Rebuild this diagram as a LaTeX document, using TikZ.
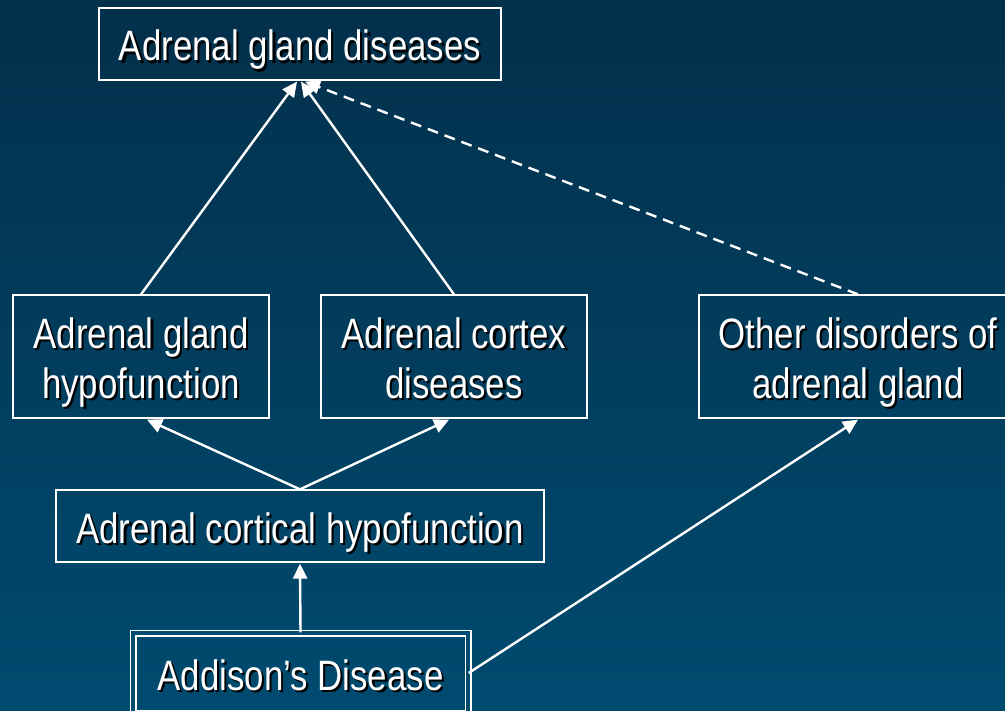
\documentclass[tikz,border=0pt]{standalone}
\usepackage{fontspec}
\setmainfont[FakeStretch=0.82]{Liberation Sans}
\usetikzlibrary{arrows.meta}
\definecolor{bgtop}{HTML}{03304B}
\definecolor{bgbot}{HTML}{004B70}
% one line of white text with a small black drop shadow and a fixed strut
\newcommand\shtxt[1]{\rule{0pt}{42pt}\rule[-8pt]{0pt}{8pt}\smash{\makebox[0pt][l]{\raisebox{-2.2pt}{\kern2.2pt\textcolor{black}{#1}}}#1}}
\tikzset{
  box/.style={draw=white, line width=1.3pt, text=white, align=center,
    inner sep=0pt, font=\fontsize{42.5}{50}\selectfont},
  link/.style={draw=white, line width=2.4pt, -{Triangle[length=15pt,width=14pt]}},
}
\begin{document}
\begin{tikzpicture}[x=1pt,y=-1pt]
  \useasboundingbox (0,0) rectangle (1005,711);
  \shade[top color=bgtop, bottom color=bgbot] (0,0) rectangle (1005,711);
  \clip (0,0) rectangle (1005,711);

  \node[box, minimum width=402pt, minimum height=72pt] (top) at (300,44)
    {\shtxt{Adrenal gland diseases}};
  \node[box, minimum width=256pt, minimum height=123pt] (hypo) at (141,356.5)
    {\shtxt{Adrenal gland}\\\shtxt{hypofunction}};
  \node[box, minimum width=266pt, minimum height=123pt] (cortex) at (454,356.5)
    {\shtxt{Adrenal cortex}\\\shtxt{diseases}};
  \node[box, minimum width=318pt, minimum height=123pt] (other) at (858,356.5)
    {\shtxt{Other disorders of}\\\shtxt{adrenal gland}};
  \node[box, minimum width=488pt, minimum height=72pt] (cortical) at (300,526)
    {\shtxt{Adrenal cortical hypofunction}};
  \node[box, double=bgbot, double distance=4.2pt, line width=1.4pt,
        minimum width=335pt, minimum height=80pt] (addison) at (300.5,673)
    {\shtxt{Addison’s Disease}};

  \draw[link] (hypo.north) -- ([xshift=-3pt,yshift=-1pt]top.south);
  \draw[link] (cortex.north) -- ([xshift=1pt,yshift=-1pt]top.south);
  \draw[link, dash pattern=on 11pt off 7pt] (other.north) -- ([xshift=5pt,yshift=-1pt]top.south);
  \draw[link] (cortical.north) -- ([xshift=6pt,yshift=-1pt]hypo.south);
  \draw[link] (cortical.north) -- ([xshift=-5pt,yshift=-1pt]cortex.south);
  \draw[link] (addison.north) -- ([yshift=-1pt]cortical.south);
  \draw[link] (addison.east) -- ([yshift=-1pt]other.south);
\end{tikzpicture}
\end{document}
